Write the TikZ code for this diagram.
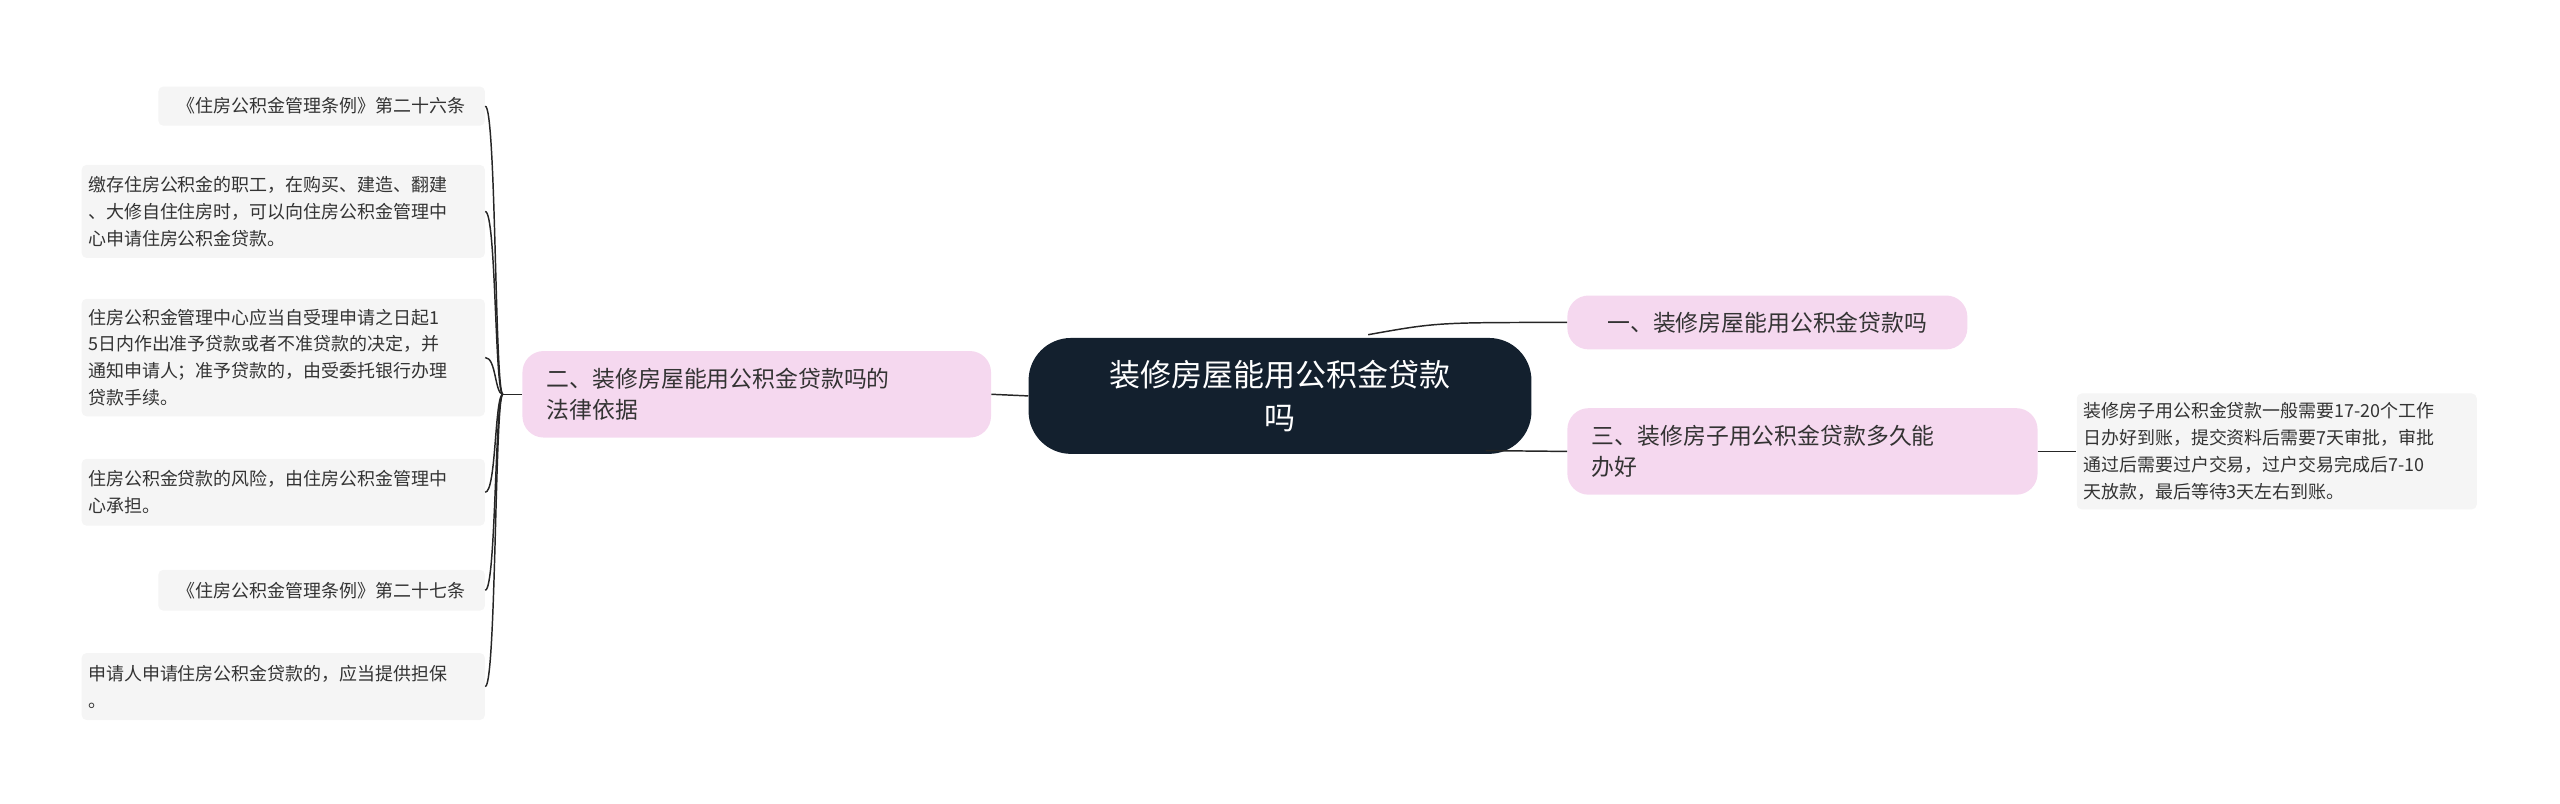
\documentclass[tikz,border=0pt]{standalone}
\usepackage{fontspec}
\setmainfont{Noto Sans CJK SC}
\begin{document}
\begin{tikzpicture}[x=1pt,y=-1pt,
 pinkbox/.style={fill=pink1,rounded corners=13pt,inner sep=0pt,font=\fontsize{14}{19}\selectfont,text=txt,align=left},
 leafbox/.style={fill=leafc,rounded corners=3pt,inner sep=0pt,font=\fontsize{11}{16.5}\selectfont,text=txt},
 link/.style={draw=black!85,line width=0.9pt}]
\definecolor{pink1}{HTML}{F5D8EF}
\definecolor{leafc}{HTML}{F5F5F5}
\definecolor{txt}{HTML}{333333}
\definecolor{dark}{HTML}{13202E}
\useasboundingbox (0,0) rectangle (1568,492);
\node[fill=dark,rounded corners=26pt,minimum width=308pt,minimum height=71pt,text=white,align=center,font=\fontsize{19}{26}\selectfont] (c) at (784,242.5) {装修房屋能用公积金贷款\\吗};
\node[pinkbox,minimum width=245pt,minimum height=33pt] (r1) at (1082.5,197.5) {一、装修房屋能用公积金贷款吗};
\node[pinkbox,minimum width=288pt,minimum height=53pt,text width=258pt] (r2) at (1104,276.5) {三、装修房子用公积金贷款多久能\\办好};
\node[leafbox,minimum width=245pt,minimum height=71pt,text width=237pt,align=left] (rl) at (1394.5,276.5) {装修房子用公积金贷款一般需要17-20个工作\\日办好到账，提交资料后需要7天审批，审批\\通过后需要过户交易，过户交易完成后7-10\\天放款，最后等待3天左右到账。};
\node[pinkbox,minimum width=287pt,minimum height=53pt,text width=257pt] (l) at (463.5,241.5) {二、装修房屋能用公积金贷款吗的\\法律依据};
\node[leafbox,minimum width=200pt,minimum height=24pt,align=center] (a1) at (197,65) {《住房公积金管理条例》第二十六条};
\node[leafbox,minimum width=247pt,minimum height=57pt,text width=239pt,align=left] (a2) at (173.5,129.5) {缴存住房公积金的职工，在购买、建造、翻建\\、大修自住住房时，可以向住房公积金管理中\\心申请住房公积金贷款。};
\node[leafbox,minimum width=247pt,minimum height=72pt,text width=239pt,align=left] (a3) at (173.5,219) {住房公积金管理中心应当自受理申请之日起1\\5日内作出准予贷款或者不准贷款的决定，并\\通知申请人；准予贷款的，由受委托银行办理\\贷款手续。};
\node[leafbox,minimum width=247pt,minimum height=41pt,text width=239pt,align=left] (a4) at (173.5,301.5) {住房公积金贷款的风险，由住房公积金管理中\\心承担。};
\node[leafbox,minimum width=200pt,minimum height=25pt,align=center] (a5) at (197,361.5) {《住房公积金管理条例》第二十七条};
\node[leafbox,minimum width=247pt,minimum height=41pt,text width=239pt,align=left] (a6) at (173.5,420.5) {申请人申请住房公积金贷款的，应当提供担保\\。};
\coordinate (j) at (308,241.5);
\draw[link] (c.west) -- (l.east);
\draw[link] (l.west) -- (j);
\foreach \n in {a1,a2,a3,a4,a5,a6}{
 \draw[link] (j) .. controls (303,241.5) and (304,0|-\n.east) .. (\n.east);
}
\draw[link] (838,205) .. controls (880,197.5) .. (r1.west);
\draw[link] (910,276) -- (r2.west);
\draw[link] (r2.east) -- (rl.west);
\end{tikzpicture}
\end{document}
